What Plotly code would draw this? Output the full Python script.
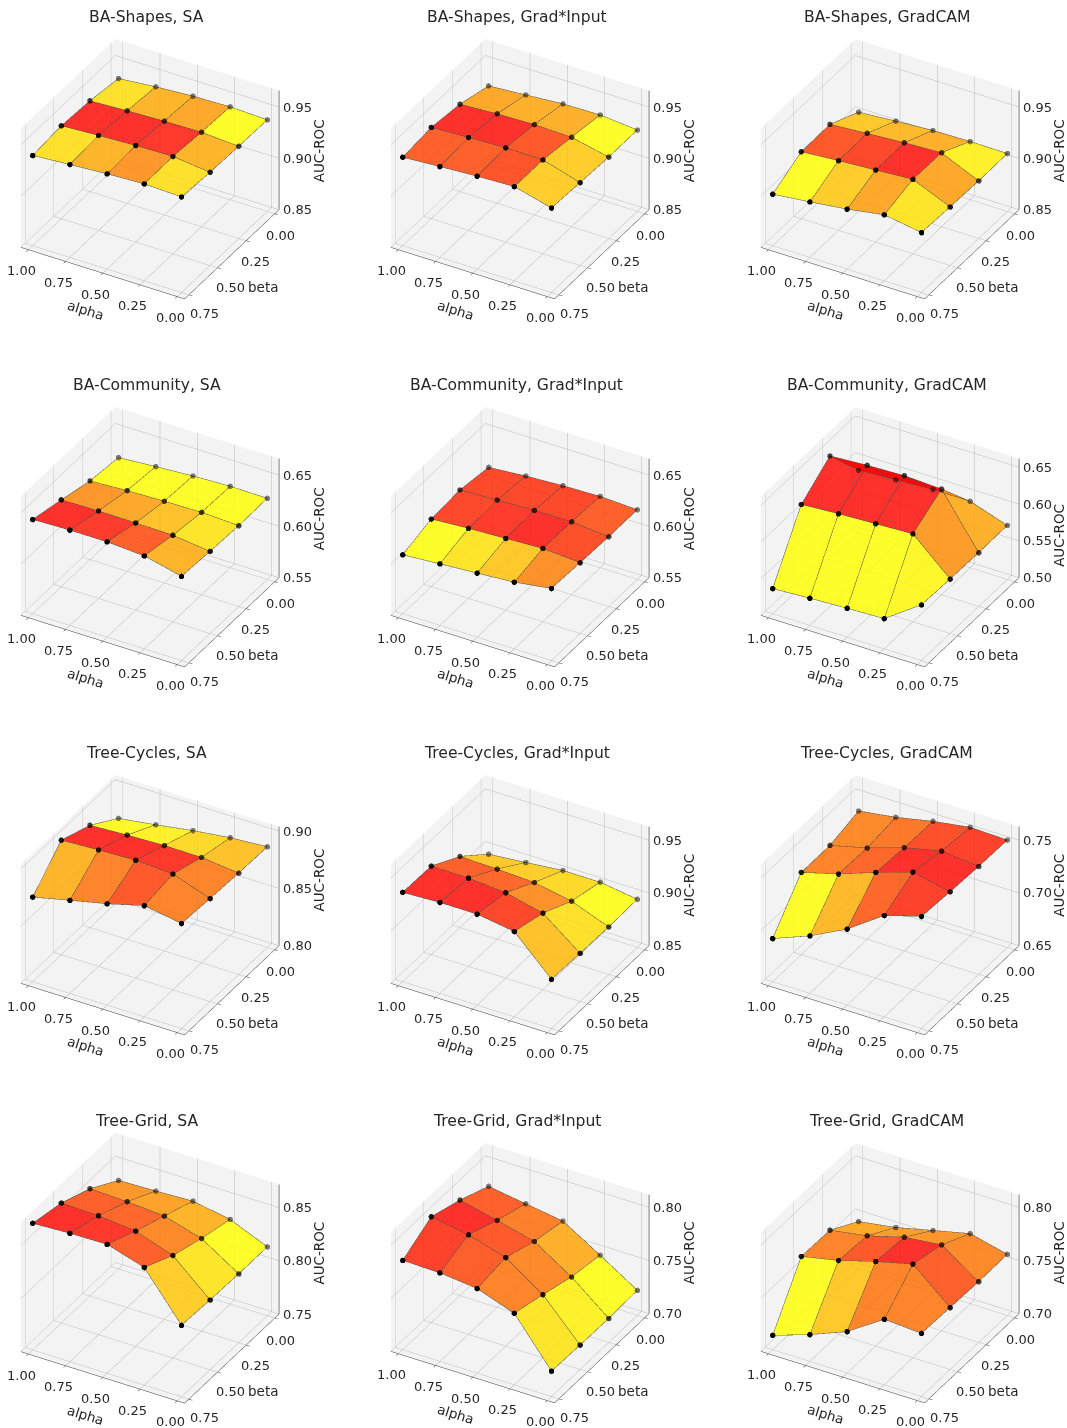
import plotly.graph_objects as go

alpha_vals = [1.0, 0.75, 0.5, 0.25, 0.0]
beta_vals = [0.75, 0.5, 0.25, 0.0]
alpha_ticks = [0.0, 0.25, 0.5, 0.75, 1.0]
beta_ticks = [0.0, 0.25, 0.5, 0.75]

titles = ["BA-Shapes, SA", "BA-Shapes, Grad*Input", "BA-Shapes, GradCAM",
          "BA-Community, SA", "BA-Community, Grad*Input", "BA-Community, GradCAM",
          "Tree-Cycles, SA", "Tree-Cycles, Grad*Input", "Tree-Cycles, GradCAM",
          "Tree-Grid, SA", "Tree-Grid, Grad*Input", "Tree-Grid, GradCAM"]

z_ranges = [[0.85, 0.966], [0.85, 0.966], [0.85, 0.966],
            [0.55, 0.666], [0.55, 0.666], [0.50, 0.662],
            [0.80, 0.904], [0.85, 0.963], [0.65, 0.763],
            [0.75, 0.872], [0.70, 0.812], [0.70, 0.812]]
z_ticks = [[0.85, 0.90, 0.95], [0.85, 0.90, 0.95], [0.85, 0.90, 0.95],
           [0.55, 0.60, 0.65], [0.55, 0.60, 0.65], [0.50, 0.55, 0.60, 0.65],
           [0.80, 0.85, 0.90], [0.85, 0.90, 0.95], [0.65, 0.70, 0.75],
           [0.75, 0.80, 0.85], [0.70, 0.75, 0.80], [0.70, 0.75, 0.80]]
z_box_stretch = [1, 1, 1, 1, 1, 1, 1, 1, 1, 1.089, 1, 1]

ba_shapes_sa = [[.9379,.9405,.9428,.9444,.9431],[.9405,.9425,.9441,.9448,.9408],[.9385,.9402,.9415,.9421,.9398],[.9339,.9372,.9395,.9405,.9392]]
ba_shapes_gi = [[.9362,.9385,.9405,.9418,.9323],[.9389,.9405,.9418,.9415,.9307],[.9352,.9372,.9382,.9372,.9293],[.9267,.9293,.9320,.9326,.9293]]
ba_shapes_gc = [[.9002,.9041,.9084,.9143,.9084],[.9152,.9179,.9202,.9225,.9070],[.9156,.9182,.9205,.9221,.9061],[.9011,.9038,.9061,.9067,.9064]]
ba_comm_sa = [[.6418,.6428,.6428,.6405,.6320],[.6346,.6352,.6349,.6343,.6300],[.6267,.6287,.6297,.6303,.6287],[.6231,.6257,.6280,.6293,.6290]]
ba_comm_gi = [[.6074,.6100,.6123,.6149,.6202],[.6159,.6182,.6198,.6215,.6189],[.6179,.6195,.6208,.6211,.6179],[.6136,.6166,.6185,.6195,.6179]]
ba_comm_gc = [[.5342,.5370,.5393,.5411,.5758],[.6119,.6151,.6174,.6196,.5740],[.6411,.6443,.6461,.6438,.5731],[.5849,.5877,.5904,.5904,.5735]]
tree_cyc_sa = [[.8739,.8813,.8885,.8971,.8917],[.9000,.9017,.9029,.9011,.8899],[.8894,.8911,.8922,.8920,.8885],[.8718,.8764,.8816,.8856,.8879]]
tree_cyc_gi = [[.9348,.9363,.9363,.9310,.8967],[.9341,.9338,.9310,.9227,.8957],[.9176,.9167,.9151,.9084,.8951],[.8941,.8973,.9008,.9008,.8957]]
tree_cyc_gc = [[.6910,.7046,.7221,.7462,.7563],[.7281,.7376,.7503,.7617,.7541],[.7281,.7367,.7481,.7560,.7525],[.7351,.7402,.7475,.7529,.7519]]
tree_grid_sa = [[.8692,.8708,.8714,.8607,.8173],[.8629,.8619,.8585,.8465,.8157],[.8509,.8497,.8472,.8371,.8148],[.8333,.8343,.8358,.8296,.8148]]
tree_grid_gi = [[.7840,.7833,.7796,.7673,.7239],[.7997,.7937,.7833,.7594,.7230],[.7899,.7818,.7730,.7506,.7226],[.7774,.7720,.7667,.7456,.7236]]
tree_grid_gc = [[.7135,.7252,.7390,.7616,.7594],[.7623,.7695,.7796,.7881,.7582],[.7616,.7673,.7770,.7808,.7572],[.7443,.7497,.7579,.7660,.7575]]
auc_values = [ba_shapes_sa, ba_shapes_gi, ba_shapes_gc, ba_comm_sa, ba_comm_gi, ba_comm_gc,
              tree_cyc_sa, tree_cyc_gi, tree_cyc_gc, tree_grid_sa, tree_grid_gi, tree_grid_gc]

# colour level of each grid cell (0 yellow, 1 red)
cell_levels = [
    [[.12,.30,.42,.12],[.85,.85,.82,.30],[.12,.30,.35,.0]],
    [[.65,.65,.70,.20],[.85,.85,.68,.20],[.35,.32,.32,.0]],
    [[.0,.20,.35,.10],[.68,.75,.85,.35],[.22,.28,.32,.05]],
    [[.85,.80,.65,.30],[.42,.35,.25,.10],[.0,.0,.0,.0]],
    [[.0,.10,.22,.45],[.75,.80,.85,.72],[.75,.75,.75,.65]],
    [[.0,.0,.0,.02],[.85,.85,.85,.40],[1.0,1.0,1.0,.32]],
    [[.30,.50,.68,.50],[.85,.85,.82,.50],[.02,.05,.15,.25]],
    [[.85,.85,.75,.25],[.65,.62,.45,.12],[.22,.20,.15,.0]],
    [[.0,.28,.62,.78],[.50,.62,.85,.85],[.48,.55,.72,.78]],
    [[.85,.82,.65,.20],[.65,.62,.48,.10],[.42,.38,.30,.0]],
    [[.78,.66,.50,.10],[.85,.68,.48,.05],[.65,.52,.32,.0]],
    [[.0,.22,.50,.50],[.50,.68,.85,.65],[.35,.40,.42,.48]],
]
row_marker_colors = ["rgba(0,0,0,1)", "rgba(0,0,0,0.88)", "rgba(0,0,0,0.72)", "rgba(0,0,0,0.5)"]

W, H = 1067, 1428
FONT = "DejaVu Sans"
TXT = "#262626"
XLO, XHI = -0.05, 1.05
YLO, YHI = -0.0375, 0.7875
fig = go.Figure()
annotations = []
cam_dir = (-0.419, 0.726, 0.545)
EYE = 1.63
BOX = 1.26
Z_BOX = 0.947
nr, nc = len(beta_vals), len(alpha_vals)

def tick_note(x, y, z, text, dx, dy, size=13, angle=0):
    return dict(x=x, y=y, z=z, text=text, showarrow=False, xshift=dx, yshift=dy, textangle=angle,
                xanchor="center", yanchor="middle", font=dict(family=FONT, size=size, color=TXT))

for p, Z in enumerate(auc_values):
    r, c = p // 3, p % 3
    name = "scene" if p == 0 else f"scene{p+1}"
    xs, ys, zs, ii, jj, kk, levels = [], [], [], [], [], [], []
    for ib, b in enumerate(beta_vals):
        for ia, a in enumerate(alpha_vals):
            xs.append(a); ys.append(b); zs.append(Z[ib][ia])
    for ib in range(nr - 1):
        for ia in range(nc - 1):
            v = ib * nc + ia
            ii += [v, v]; jj += [v + 1, v + nc + 1]; kk += [v + nc + 1, v + nc]
            levels += [cell_levels[p][ib][ia]] * 2
    fig.add_trace(go.Mesh3d(x=xs, y=ys, z=zs, i=ii, j=jj, k=kk, intensity=levels, intensitymode="cell",
                            colorscale=[[0, "rgb(255,255,0)"], [1, "rgb(255,0,0)"]], cmin=0, cmax=0.88,
                            showscale=False, opacity=0.82, flatshading=True, hoverinfo="skip",
                            lighting=dict(ambient=1, diffuse=0, specular=0, roughness=1, fresnel=0),
                            scene=name))
    lx, ly, lz = [], [], []
    for ib, b in enumerate(beta_vals):
        for ia, a in enumerate(alpha_vals):
            lx.append(a); ly.append(b); lz.append(Z[ib][ia])
        lx.append(None); ly.append(None); lz.append(None)
    for ia, a in enumerate(alpha_vals):
        for ib, b in enumerate(beta_vals):
            lx.append(a); ly.append(b); lz.append(Z[ib][ia])
        lx.append(None); ly.append(None); lz.append(None)
    fig.add_trace(go.Scatter3d(x=lx, y=ly, z=lz, mode="lines", line=dict(color="rgba(60,60,60,0.8)", width=1.2),
                               hoverinfo="skip", showlegend=False, scene=name))
    fig.add_trace(go.Scatter3d(x=xs, y=ys, z=zs, mode="markers",
                               marker=dict(size=3.2, color=[row_marker_colors[i // nc] for i in range(len(xs))], line=dict(width=0)),
                               hoverinfo="skip", showlegend=False, scene=name))
    # z axis along the right-hand back edge, with its ticks
    zlo, zhi = z_ranges[p]
    ax, ay, az = [XLO, XLO, None], [YLO, YLO, None], [zlo, zhi, None]
    for t in z_ticks[p]:
        ax += [XLO, XLO - 0.02, None]; ay += [YLO, YLO - 0.012, None]; az += [t, t, None]
    fig.add_trace(go.Scatter3d(x=ax, y=ay, z=az, mode="lines", line=dict(color="#333333", width=1.2),
                               hoverinfo="skip", showlegend=False, scene=name))
    stretch = z_box_stretch[p]
    x0 = (c * 370) / W
    x1 = (c * 370 + 300) / W
    ytop = r * 368 + 19 - (stretch - 1) * 55
    ybot = ytop + 300
    axis_common = dict(showgrid=True, gridcolor="#b8b8b8", gridwidth=1, showbackground=True,
                       backgroundcolor="#f3f3f3", zeroline=False, showspikes=False,
                       linecolor="#333333", linewidth=1, tickcolor="#333333", title=dict(text=""),
                       showticklabels=False)
    notes = []
    for t in alpha_ticks:
        notes.append(tick_note(t, YHI, zlo, f"{t:.2f}", -7, -21))
    for t in beta_ticks:
        notes.append(tick_note(XLO, t, zlo, f"{t:.2f}", 6 + t * 13, -22 + t * 5))
    for t in z_ticks[p]:
        notes.append(tick_note(XLO, YLO, t, f"{t:.2f}", 18, 0))
    notes.append(tick_note(0.5, YHI, zlo, "alpha", -17, -37, 13.5, 17))
    notes.append(tick_note(XLO, 0.5, zlo, "beta", 45, -19, 13.5))
    notes.append(tick_note(XLO, YLO, zlo + 0.057, "AUC-ROC", 40, 0, 13.5, -90))
    fig.update_layout(**{name: dict(
        domain=dict(x=[x0, x1], y=[1 - ybot / H, 1 - ytop / H]),
        xaxis=dict(range=[XLO, XHI], tickvals=alpha_ticks, showline=True, ticks="outside", ticklen=4, **axis_common),
        yaxis=dict(range=[YLO, YHI], tickvals=beta_ticks, showline=True, ticks="outside", ticklen=4, **axis_common),
        zaxis=dict(range=z_ranges[p], tickvals=z_ticks[p], showline=False, ticks="", **axis_common),
        aspectmode="manual", aspectratio=dict(x=BOX, y=BOX, z=Z_BOX * stretch),
        camera=dict(eye=dict(x=cam_dir[0] * EYE, y=cam_dir[1] * EYE, z=cam_dir[2] * EYE),
                    up=dict(x=0, y=0, z=1), center=dict(x=0, y=0, z=0),
                    projection=dict(type="orthographic")),
        annotations=notes,
    )})
    annotations.append(dict(text=titles[p], x=(c * 370 + 146.5) / W, y=1 - (r * 368 + 17) / H,
                            xref="paper", yref="paper", xanchor="center", yanchor="middle", showarrow=False,
                            font=dict(family=FONT, size=15.6, color=TXT)))

fig.update_layout(width=W, height=H, autosize=False, margin=dict(l=0, r=0, t=0, b=0),
                  paper_bgcolor="white", showlegend=False, annotations=annotations,
                  font=dict(family=FONT))
fig.write_html("out.html", config=dict(displayModeBar=False),
               post_script="document.body.style.margin='0';")
